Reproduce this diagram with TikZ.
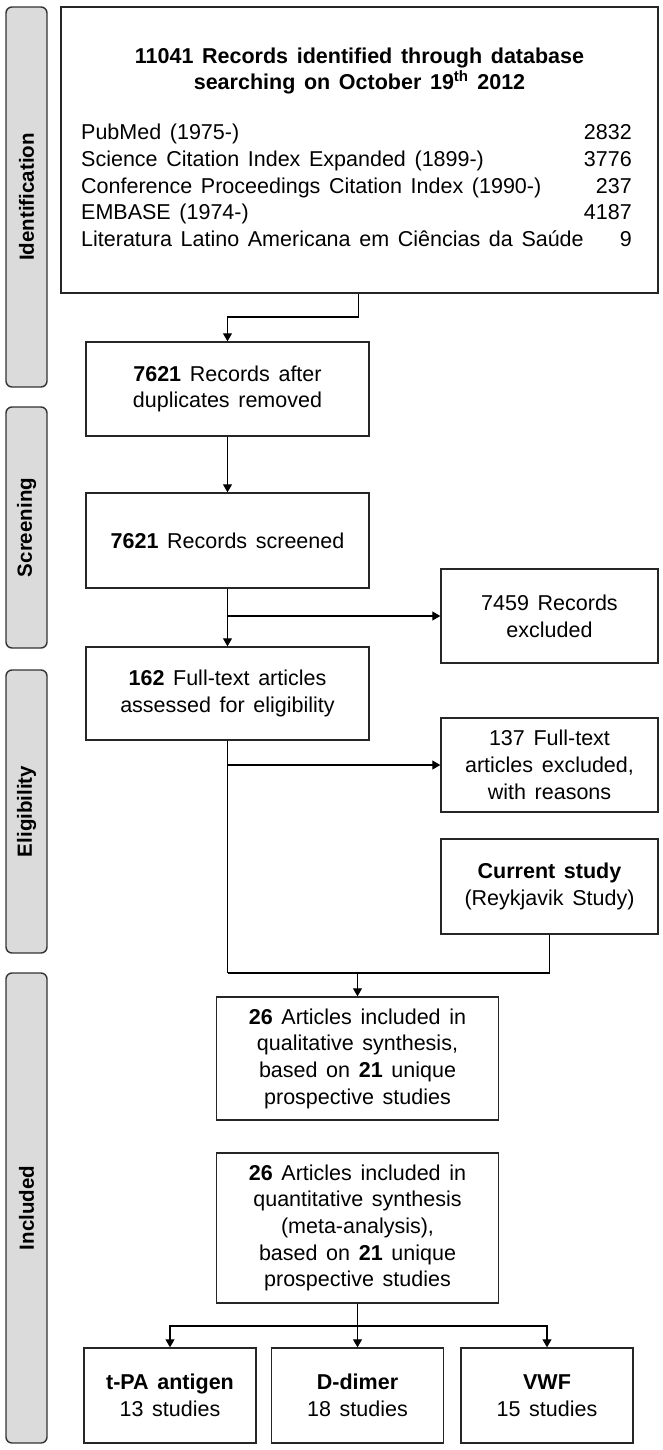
\documentclass[tikz,border=0pt]{standalone}
\usepackage{fontspec}
\setmainfont{Liberation Sans}[WordSpace=1.45]
\usetikzlibrary{arrows.meta}
\tikzset{
  box/.style={draw=black!85, line width=1.4pt, fill=white, align=center, inner sep=0pt,
    font=\fontsize{21.5}{26.7}\selectfont},
  side/.style={draw=black!80, line width=1.4pt, fill=black!14, rounded corners=6pt,
    minimum width=41pt, inner sep=0pt},
  sidelabel/.style={rotate=90, font=\fontsize{20.5}{24}\selectfont\bfseries},
  arr/.style={line width=1.1pt, -{Triangle[length=8pt,width=9pt]}},
  ln/.style={line width=1.1pt},
  lst/.style={inner sep=0pt, font=\fontsize{21.5}{26.7}\selectfont},
}
\begin{document}
\begin{tikzpicture}[x=1pt,y=-1pt]
\useasboundingbox (0,0) rectangle (662,1450);
% sidebars
\node[side, minimum height=380pt] (sid) at (26.5,197) {};
\node[sidelabel] (sidl) at (sid.center) {Identification};
\node[side, minimum height=241pt] (sscr) at (26.5,527.5) {};
\node[sidelabel] (sscrl) at (sscr.center) {Screening};
\node[side, minimum height=283pt] (selig) at (26.5,811.5) {};
\node[sidelabel] (seligl) at (selig.center) {Eligibility};
\node[side, minimum height=470pt] (sinc) at (26.5,1208) {};
\node[sidelabel] (sincl) at (sinc.center) {Included};
% identification box
\node[box, minimum width=597pt, minimum height=286pt] (b1) at (359.5,150) {};
\node[lst, font=\fontsize{21.5}{25.5}\selectfont\bfseries, align=center] (b1t) at (359.5,71)
  {11041 Records identified through database\\searching on October 19\textsuperscript{th} 2012};
\node[lst, anchor=mid west] (l1) at (81,137) {PubMed (1975-)};
\node[lst, anchor=mid west] (l2) at (81,164) {Science Citation Index Expanded (1899-)};
\node[lst, anchor=mid west] (l3) at (81,191) {Conference Proceedings Citation Index (1990-)};
\node[lst, anchor=mid west] (l4) at (81,217) {EMBASE (1974-)};
\node[lst, anchor=mid west] (l5) at (81,244) {Literatura Latino Americana em Ciências da Saúde};
\node[lst, anchor=mid east] (n1) at (632,137) {2832};
\node[lst, anchor=mid east] (n2) at (632,164) {3776};
\node[lst, anchor=mid east] (n3) at (632,191) {237};
\node[lst, anchor=mid east] (n4) at (632,217) {4187};
\node[lst, anchor=mid east] (n5) at (632,244) {9};
% main column
\node[box, minimum width=283pt, minimum height=94pt] (b2) at (227.5,389) {\textbf{7621} Records after\\duplicates removed};
\node[box, minimum width=283pt, minimum height=95pt] (b3) at (227.5,540.5) {\textbf{7621} Records screened};
\node[box, minimum width=283pt, minimum height=93pt] (b4) at (227.5,693.5) {\textbf{162} Full-text articles\\assessed for eligibility};
\node[box, minimum width=217pt, minimum height=94pt] (ex1) at (549.5,616) {7459 Records\\excluded};
\node[box, minimum width=217pt, minimum height=94pt] (ex2) at (549.5,765) {137 Full-text\\articles excluded,\\with reasons};
\node[box, minimum width=217pt, minimum height=95pt] (cur) at (549.5,886.5) {\textbf{Current study}\\(Reykjavik Study)};
\node[box, minimum width=282pt, minimum height=123pt] (b5) at (357.5,1058.5) {\textbf{26} Articles included in\\qualitative synthesis,\\based on \textbf{21} unique\\prospective studies};
\node[box, minimum width=282pt, minimum height=150pt] (b6) at (357.5,1228) {\textbf{26} Articles included in\\quantitative synthesis\\(meta-analysis),\\based on \textbf{21} unique\\prospective studies};
\node[box, minimum width=172pt, minimum height=95pt] (r1) at (170,1395.5) {\textbf{t-PA antigen}\\13 studies};
\node[box, minimum width=172pt, minimum height=95pt] (r2) at (357.5,1395.5) {\textbf{D-dimer}\\18 studies};
\node[box, minimum width=172pt, minimum height=95pt] (r3) at (547,1395.5) {\textbf{VWF}\\15 studies};
% connectors
\coordinate (c1) at (358.5,317);
\draw[arr] (b1.south -| c1) -- (c1) -| (b2.north);
\draw[arr] (b2.south) -- (b3.north);
\draw[arr] (b3.south) -- (b4.north);
\draw[arr] (b3.south |- ex1.west) -- (ex1.west);
\coordinate (j1) at (227.5,973);
\draw[ln] (b4.south) -- (j1);
\draw[arr] (b4.south |- ex2.west) -- (ex2.west);
\draw[ln] (cur.south) -- (cur.south |- j1) -- (j1);
\draw[arr] (b5.north |- j1) -- (b5.north);
\coordinate (j2) at (357.5,1326);
\draw[ln] (b6.south) -- (j2);
\draw[arr] (j2) -- (r2.north);
\draw[arr] (j2) -| (r1.north);
\draw[arr] (j2) -| (r3.north);
\end{tikzpicture}
\end{document}
